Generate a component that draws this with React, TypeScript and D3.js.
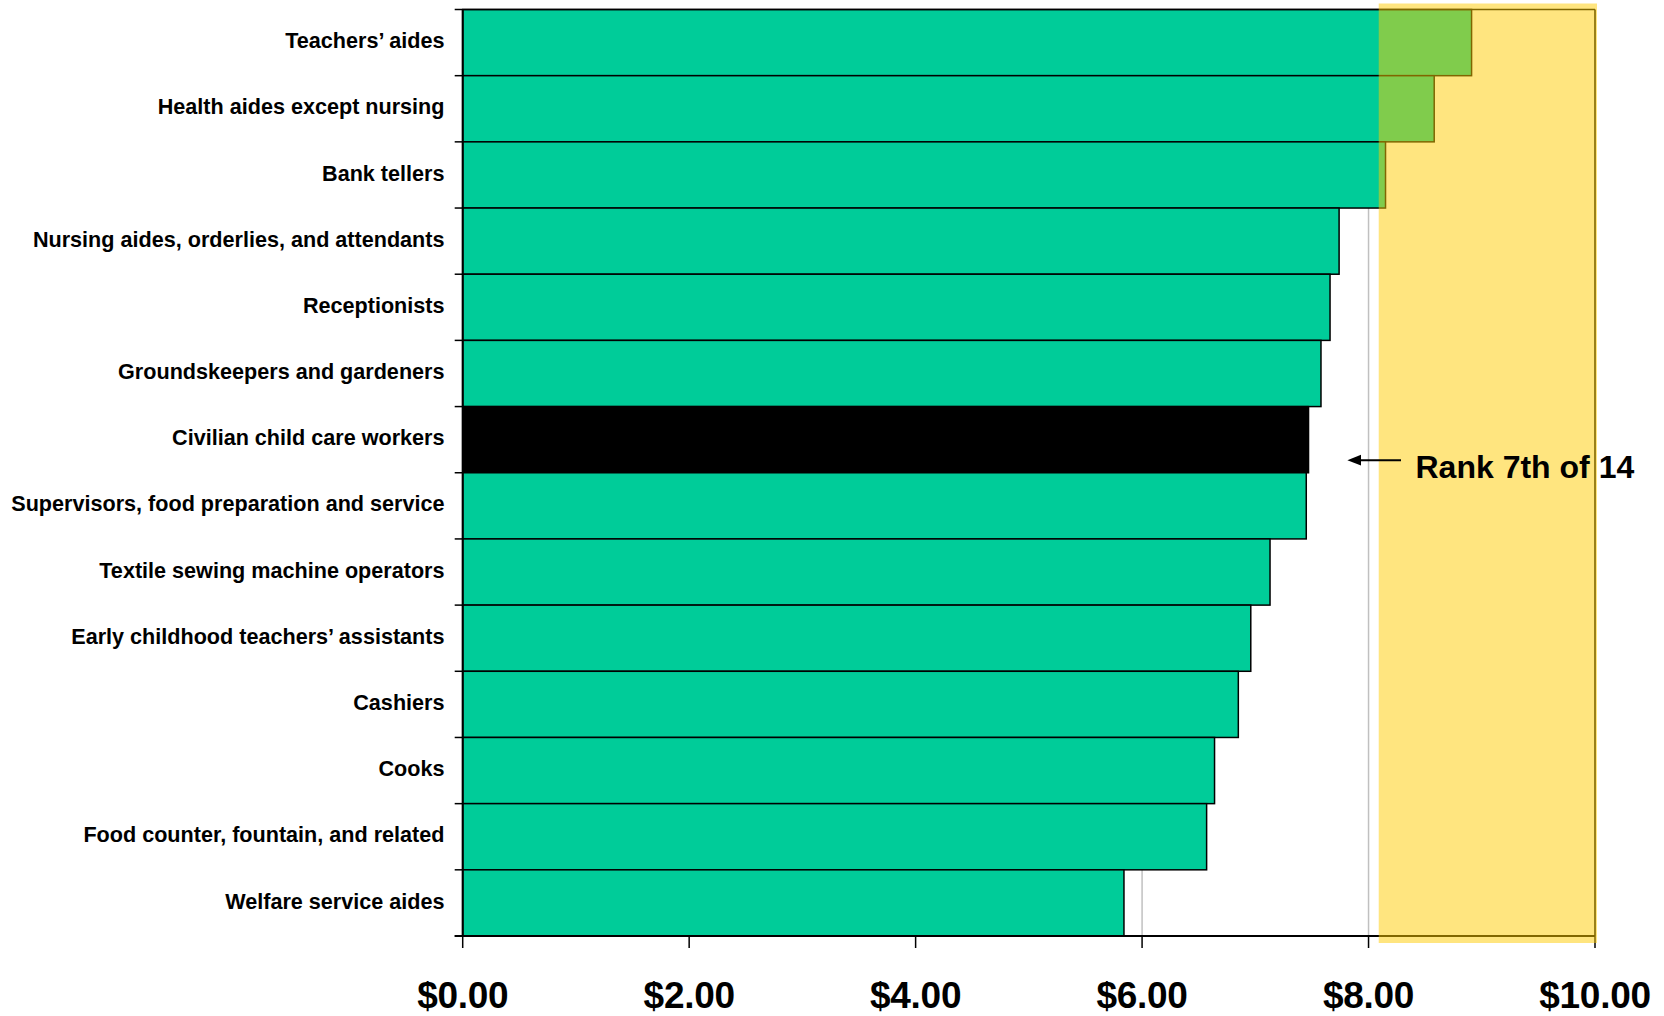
import React from "react";
import * as d3 from "d3";

const categories = [
  "Teachers\u2019 aides",
  "Health aides except nursing",
  "Bank tellers",
  "Nursing aides, orderlies, and attendants",
  "Receptionists",
  "Groundskeepers and gardeners",
  "Civilian child care workers",
  "Supervisors, food preparation and service",
  "Textile sewing machine operators",
  "Early childhood teachers\u2019 assistants",
  "Cashiers",
  "Cooks",
  "Food counter, fountain, and related",
  "Welfare service aides",
];
const wages = [8.91, 8.58, 8.15, 7.74, 7.66, 7.58, 7.47, 7.45, 7.13, 6.96, 6.85, 6.64, 6.57, 5.84];
const highlightCategory = "Civilian child care workers";
const xTicks = [0, 2, 4, 6, 8, 10];
const bandStart = 8.09;
const bandEnd = 10;
const annotation = "Rank 7th of 14";

const W = 1664;
const H = 1016;
const M = { left: 462.7, right: 1595, top: 9.5, bottom: 936 };
const FONT = "'Liberation Sans', Arial, Helvetica, sans-serif";

export default function App() {
  const x = d3.scaleLinear().domain([0, 10]).range([M.left, M.right]);
  const y = d3.scaleBand<string>().domain(categories).range([M.top, M.bottom]).padding(0);
  const fmt = (v: number) => "$" + d3.format(".2f")(v);
  const hiY = (y(highlightCategory) as number) + y.bandwidth() / 2;
  const annY = hiY + 27.5;
  const boundaries = d3.range(categories.length + 1).map((i) => M.top + i * y.bandwidth());

  return (
    <svg
      width={W}
      height={H}
      style={{ position: "absolute", left: 0, top: 0, display: "block", background: "#fff" }}
      fontFamily={FONT}
    >
      {/* gridlines */}
      {xTicks.slice(1).map((t) => (
        <line key={"g" + t} x1={x(t)} x2={x(t)} y1={M.top} y2={M.bottom} stroke="#c0c0c0" strokeWidth={1.5} />
      ))}
      {/* bars */}
      {categories.map((c, i) => (
        <rect
          key={c}
          x={x(0)}
          y={y(c)}
          width={x(wages[i]) - x(0)}
          height={y.bandwidth()}
          fill={c === highlightCategory ? "#000000" : "#00cc99"}
          stroke="#000"
          strokeWidth={1.5}
        />
      ))}
      {/* plot frame top/right */}
      <line x1={M.left} x2={M.right} y1={M.top} y2={M.top} stroke="#000" strokeWidth={1.5} />
      <line x1={M.right} x2={M.right} y1={M.top} y2={M.bottom} stroke="#000" strokeWidth={1.5} />
      {/* axes */}
      <line x1={M.left} x2={M.left} y1={M.top} y2={M.bottom} stroke="#000" strokeWidth={2} />
      <line x1={M.left - 8} x2={M.right} y1={M.bottom} y2={M.bottom} stroke="#000" strokeWidth={2} />
      {boundaries.map((b, i) => (
        <line key={"yt" + i} x1={M.left - 8} x2={M.left} y1={b} y2={b} stroke="#000" strokeWidth={1.5} />
      ))}
      {xTicks.map((t) => (
        <line key={"xt" + t} x1={x(t)} x2={x(t)} y1={M.bottom} y2={M.bottom + 12} stroke="#000" strokeWidth={1.5} />
      ))}
      {/* highlight band */}
      <rect
        x={x(bandStart)}
        y={M.top - 6}
        width={x(bandEnd) - x(bandStart) + 2}
        height={M.bottom - M.top + 13}
        fill="#ffcc00"
        fillOpacity={0.5}
      />
      {/* x tick labels */}
      {xTicks.map((t) => (
        <text
          key={"xl" + t}
          x={x(t)}
          y={1008}
          textAnchor="middle"
          fontSize={37}
          fontWeight="bold"
          letterSpacing={-0.3}
          fill="#000"
        >
          {fmt(t)}
        </text>
      ))}
      {/* category labels */}
      {categories.map((c) => (
        <text
          key={"cl" + c}
          x={444.5}
          y={(y(c) as number) + y.bandwidth() / 2}
          dy="0.26em"
          textAnchor="end"
          fontSize={21.6}
          fontWeight="bold"
          fill="#000"
        >
          {c}
        </text>
      ))}
      {/* annotation */}
      <defs>
        <marker id="ah" viewBox="0 0 10 10" refX="1" refY="5" markerWidth="7" markerHeight="7" orient="auto-start-reverse">
          <path d="M0,1 L10,5 L0,9 Z" fill="#000" />
        </marker>
      </defs>
      <line x1={1401} x2={1360} y1={annY - 7} y2={annY - 7} stroke="#000" strokeWidth={2} markerEnd="url(#ah)" />
      <text x={1415.5} y={annY + 11} fontSize={32} fontWeight="bold" fill="#000">
        {annotation}
      </text>
    </svg>
  );
}
